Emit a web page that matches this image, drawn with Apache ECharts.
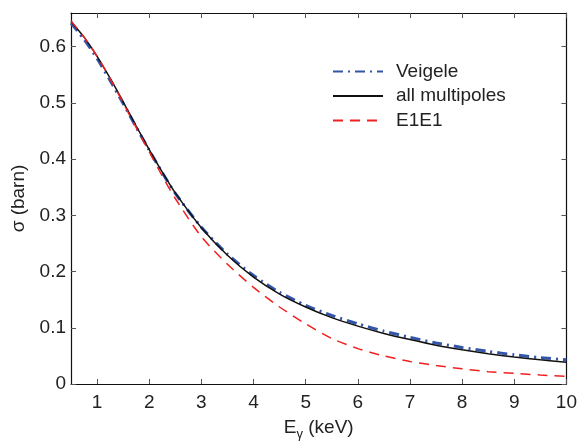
<!DOCTYPE html>
<html>
<head>
<meta charset="utf-8">
<script src="https://cdn.jsdelivr.net/npm/echarts@6/dist/echarts.min.js"></script>
<style>html,body{margin:0;padding:0;background:#fff;}#c{width:580px;height:446px;}</style>
</head>
<body>
<div id="c"></div>
<script>
const energies = [0.5, 0.75, 1, 1.25, 1.5, 1.75, 2, 2.25, 2.5, 3, 3.5, 4, 4.5, 5, 5.5, 6, 6.5, 7, 7.5, 8, 8.5, 9, 9.5, 10];
const veigele = [0.642, 0.613, 0.579, 0.540, 0.499, 0.457, 0.416, 0.376, 0.339, 0.279, 0.231, 0.193, 0.163, 0.140, 0.122, 0.107, 0.094, 0.083, 0.073, 0.065, 0.058, 0.052, 0.047, 0.043];
const allMultipoles = [0.645, 0.617, 0.583, 0.544, 0.502, 0.459, 0.417, 0.377, 0.340, 0.278, 0.229, 0.190, 0.160, 0.137, 0.118, 0.103, 0.090, 0.079, 0.069, 0.061, 0.054, 0.048, 0.043, 0.0386];
const e1e1 = [0.646, 0.617, 0.583, 0.543, 0.500, 0.456, 0.413, 0.370, 0.330, 0.262, 0.213, 0.172, 0.137, 0.107, 0.081, 0.063, 0.050, 0.040, 0.033, 0.027, 0.022, 0.019, 0.016, 0.0135];
const xTicks = [1, 2, 3, 4, 5, 6, 7, 8, 9, 10];
const yTicks = [0, 0.1, 0.2, 0.3, 0.4, 0.5, 0.6];
const seriesNames = ['Veigele', 'all multipoles', 'E1E1'];

const pair = (ys) => energies.map((x, i) => [x, ys[i]]);
const font = 'Liberation Sans, Arial, Helvetica, sans-serif';
const mkLine = () => ({ show: true, onZero: false, lineStyle: { color: '#111', width: 1.2 } });
const mkTick = (vals) => ({ show: true, inside: true, length: 5, customValues: vals, lineStyle: { color: '#555' } });

const chart = echarts.init(document.getElementById('c'), null, { renderer: 'canvas' });
chart.setOption({
  animation: false,
  grid: { left: 71, right: 13, top: 13, bottom: 58 },
  textStyle: { fontFamily: font },
  legend: {
    orient: 'vertical',
    left: 327,
    top: 57,
    itemWidth: 50,
    itemHeight: 14,
    itemGap: 5.5,
    data: seriesNames,
    itemStyle: { color: 'rgba(0,0,0,0)', borderColor: 'rgba(0,0,0,0)', borderWidth: 0 },
    textStyle: { fontFamily: font, fontSize: 19, color: '#222', padding: [0, 0, 0, 8] }
  },
  xAxis: [
    {
      type: 'value', position: 'bottom', min: 0.5, max: 10,
      axisLine: mkLine(), splitLine: { show: false },
      name: '{e|E}{g|γ}{e| (keV)}', nameLocation: 'middle', nameGap: 30,
      nameTextStyle: {
        fontFamily: font, color: '#222',
        rich: {
          e: { fontSize: 19, fontFamily: font, color: '#222' },
          g: { fontSize: 13, fontFamily: font, color: '#222', padding: [14, 0, 0, 0] }
        }
      },
      axisTick: mkTick(xTicks),
      axisLabel: { customValues: xTicks, fontSize: 19, color: '#222', margin: 9, fontFamily: font }
    },
    {
      type: 'value', position: 'top', min: 0.5, max: 10,
      axisLine: mkLine(), splitLine: { show: false },
      axisTick: mkTick(xTicks),
      axisLabel: { show: false }
    }
  ],
  yAxis: [
    {
      type: 'value', position: 'left', min: 0, max: 0.66,
      axisLine: mkLine(), splitLine: { show: false },
      name: 'σ (barn)', nameLocation: 'middle', nameGap: 43,
      nameTextStyle: { fontSize: 19, color: '#222', fontFamily: font },
      axisTick: mkTick(yTicks),
      axisLabel: { customValues: yTicks, fontSize: 19, color: '#222', margin: 5, fontFamily: font }
    },
    {
      type: 'value', position: 'right', min: 0, max: 0.66,
      axisLine: mkLine(), splitLine: { show: false },
      axisTick: mkTick(yTicks),
      axisLabel: { show: false }
    }
  ],
  series: [
    {
      name: seriesNames[0], type: 'line', data: pair(veigele), symbol: 'none', smooth: 0.25,
      xAxisIndex: 0, yAxisIndex: 0, z: 2,
      lineStyle: { color: '#3355aa', width: 3, type: [10, 5, 2, 5] },
      itemStyle: { color: '#3355aa' }
    },
    {
      name: seriesNames[1], type: 'line', data: pair(allMultipoles), symbol: 'none', smooth: 0.25,
      xAxisIndex: 0, yAxisIndex: 0, z: 3,
      lineStyle: { color: '#111', width: 1.5, type: 'solid' },
      itemStyle: { color: '#111' }
    },
    {
      name: seriesNames[2], type: 'line', data: pair(e1e1), symbol: 'none', smooth: 0.25,
      xAxisIndex: 0, yAxisIndex: 0, z: 4,
      lineStyle: { color: '#f02020', width: 1.5, type: [10, 7] },
      itemStyle: { color: '#f02020' }
    }
  ]
});
</script>
</body>
</html>
